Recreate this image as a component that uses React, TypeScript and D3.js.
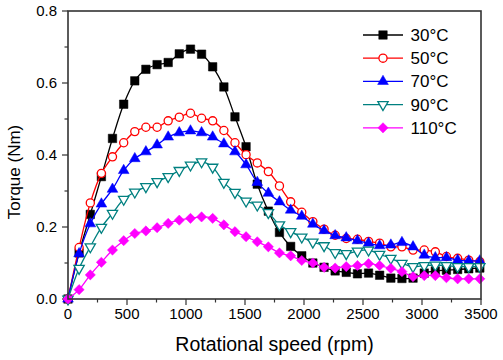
import React from "react";
import * as d3 from "d3";

const speeds = [0, 94, 189, 283, 377, 472, 566, 660, 755, 849, 943, 1038, 1132, 1226, 1321, 1415, 1509, 1604, 1698, 1792, 1887, 1981, 2075, 2170, 2264, 2358, 2453, 2547, 2641, 2736, 2830, 2924, 3019, 3113, 3207, 3302, 3396, 3490];

const t30 = [0, 0.128, 0.235, 0.340, 0.446, 0.541, 0.606, 0.638, 0.651, 0.657, 0.681, 0.694, 0.680, 0.645, 0.589, 0.506, 0.423, 0.319, 0.244, 0.185, 0.146, 0.120, 0.100, 0.088, 0.078, 0.074, 0.070, 0.072, 0.066, 0.058, 0.057, 0.058, 0.072, 0.078, 0.080, 0.082, 0.084, 0.086];
const t50 = [0, 0.143, 0.267, 0.349, 0.395, 0.434, 0.465, 0.477, 0.477, 0.495, 0.505, 0.516, 0.502, 0.495, 0.468, 0.434, 0.401, 0.378, 0.354, 0.314, 0.270, 0.241, 0.215, 0.194, 0.177, 0.168, 0.166, 0.160, 0.155, 0.145, 0.145, 0.136, 0.136, 0.131, 0.118, 0.113, 0.108, 0.104];
const t70 = [0, 0.126, 0.209, 0.264, 0.305, 0.357, 0.390, 0.409, 0.428, 0.450, 0.462, 0.467, 0.462, 0.450, 0.431, 0.409, 0.373, 0.324, 0.294, 0.270, 0.247, 0.230, 0.208, 0.190, 0.176, 0.170, 0.162, 0.155, 0.148, 0.150, 0.157, 0.145, 0.122, 0.115, 0.115, 0.108, 0.106, 0.106];
const t90 = [0, 0.085, 0.145, 0.199, 0.238, 0.277, 0.297, 0.312, 0.326, 0.340, 0.357, 0.372, 0.381, 0.366, 0.324, 0.296, 0.272, 0.261, 0.240, 0.206, 0.187, 0.172, 0.158, 0.148, 0.129, 0.126, 0.133, 0.136, 0.124, 0.113, 0.099, 0.090, 0.093, 0.094, 0.093, 0.090, 0.090, 0.090];
const t110 = [0, 0.026, 0.067, 0.102, 0.136, 0.162, 0.182, 0.189, 0.198, 0.210, 0.219, 0.224, 0.228, 0.224, 0.206, 0.187, 0.173, 0.159, 0.145, 0.128, 0.120, 0.107, 0.100, 0.088, 0.086, 0.090, 0.093, 0.098, 0.093, 0.085, 0.076, 0.062, 0.065, 0.065, 0.059, 0.056, 0.056, 0.056];

const seriesNames = ["30°C", "50°C", "70°C", "90°C", "110°C"];
const xTicks = [0, 500, 1000, 1500, 2000, 2500, 3000, 3500];
const yTicks = [0, 0.2, 0.4, 0.6, 0.8];

const W = 503, H = 360;
const M = { left: 68, right: 481, top: 11, bottom: 299 };
const FONT = "'Liberation Sans', Arial, sans-serif";

type Marker = "square" | "circle" | "triUp" | "triDown" | "diamond";
const styles: { color: string; marker: Marker; fill: boolean }[] = [
  { color: "#000000", marker: "square", fill: true },
  { color: "#ff0000", marker: "circle", fill: false },
  { color: "#0000ff", marker: "triUp", fill: true },
  { color: "#008080", marker: "triDown", fill: false },
  { color: "#ff00ff", marker: "diamond", fill: true },
];

function markerPath(m: Marker): { d: string; rot: number } {
  switch (m) {
    case "square": return { d: d3.symbol(d3.symbolSquare, 72)()!, rot: 0 };
    case "circle": return { d: d3.symbol(d3.symbolCircle, 52)()!, rot: 0 };
    case "triUp": return { d: d3.symbol(d3.symbolTriangle, 50)()!, rot: 0 };
    case "triDown": return { d: d3.symbol(d3.symbolTriangle, 46)()!, rot: 180 };
    case "diamond": return { d: d3.symbol(d3.symbolSquare, 52)()!, rot: 45 };
  }
}

export default function App() {
  const x = d3.scaleLinear().domain([0, 3500]).range([M.left, M.right]);
  const y = d3.scaleLinear().domain([0, 0.8]).range([M.bottom, M.top]);
  const all = [t30, t50, t70, t90, t110];
  const line = d3
    .line<number>()
    .x((_, i) => x(speeds[i]))
    .y((v) => y(v))
    .curve(d3.curveCatmullRom.alpha(0.5));

  const xMinor = d3.range(0, 3501, 250);
  const yMinor = d3.range(0, 0.81, 0.1);

  const legX0 = 363, legX1 = 403, legY0 = 35, legDy = 23.2;

  return (
    <svg width={W} height={H} style={{ position: "absolute", left: 0, top: 0, background: "#fff" }} fontFamily={FONT}>
      <rect x={0} y={0} width={W} height={H} fill="#fff" />
      {/* ticks */}
      {xMinor.map((v) => {
        const major = v % 500 === 0;
        return <line key={"xt" + v} x1={x(v)} x2={x(v)} y1={M.bottom} y2={M.bottom + (major ? 6 : 3.5)} stroke="#333" strokeWidth={1.2} />;
      })}
      {yMinor.map((v, i) => {
        const major = i % 2 === 0;
        return <line key={"yt" + i} x1={M.left - (major ? 6 : 3.5)} x2={M.left} y1={y(v)} y2={y(v)} stroke="#333" strokeWidth={1.2} />;
      })}
      {xTicks.map((v) => (
        <text key={"xl" + v} x={x(v)} y={318.5} textAnchor="middle" fontSize={15} fill="#000">{v}</text>
      ))}
      {yTicks.map((v) => (
        <text key={"yl" + v} x={57} y={y(v) + 5.3} textAnchor="end" fontSize={15} fill="#000">{v.toFixed(1)}</text>
      ))}
      <text x={(M.left + M.right) / 2} y={351} textAnchor="middle" fontSize={19.5} fill="#000">Rotational speed (rpm)</text>
      <text transform={`translate(20,172) rotate(-90)`} textAnchor="middle" fontSize={17} fill="#000">Torque (Nm)</text>

      {/* series */}
      {all.map((vals, si) => {
        const st = styles[si];
        const mp = markerPath(st.marker);
        return (
          <g key={"s" + si}>
            <path d={line(vals)!} fill="none" stroke={st.color} strokeWidth={1.3} />
            {vals.map((v, i) => (
              <path
                key={i}
                d={mp.d}
                transform={`translate(${x(speeds[i])},${y(v)}) rotate(${mp.rot})`}
                fill={st.fill ? st.color : "#fff"}
                stroke={st.color}
                strokeWidth={st.fill ? 0.5 : 1.3}
              />
            ))}
          </g>
        );
      })}

      {/* frame */}
      <rect x={M.left} y={M.top} width={M.right - M.left} height={M.bottom - M.top} fill="none" stroke="#333" strokeWidth={1.6} />

      {/* legend */}
      {seriesNames.map((name, si) => {
        const st = styles[si];
        const mp = markerPath(st.marker);
        const ly = legY0 + si * legDy;
        return (
          <g key={"lg" + si}>
            <line x1={legX0} x2={legX1} y1={ly} y2={ly} stroke={st.color} strokeWidth={1.3} />
            <path d={mp.d} transform={`translate(${(legX0 + legX1) / 2},${ly}) rotate(${mp.rot})`} fill={st.fill ? st.color : "#fff"} stroke={st.color} strokeWidth={st.fill ? 0.5 : 1.3} />
            <text x={410.5} y={ly + 6} fontSize={17} fill="#000">{name}</text>
          </g>
        );
      })}
    </svg>
  );
}
